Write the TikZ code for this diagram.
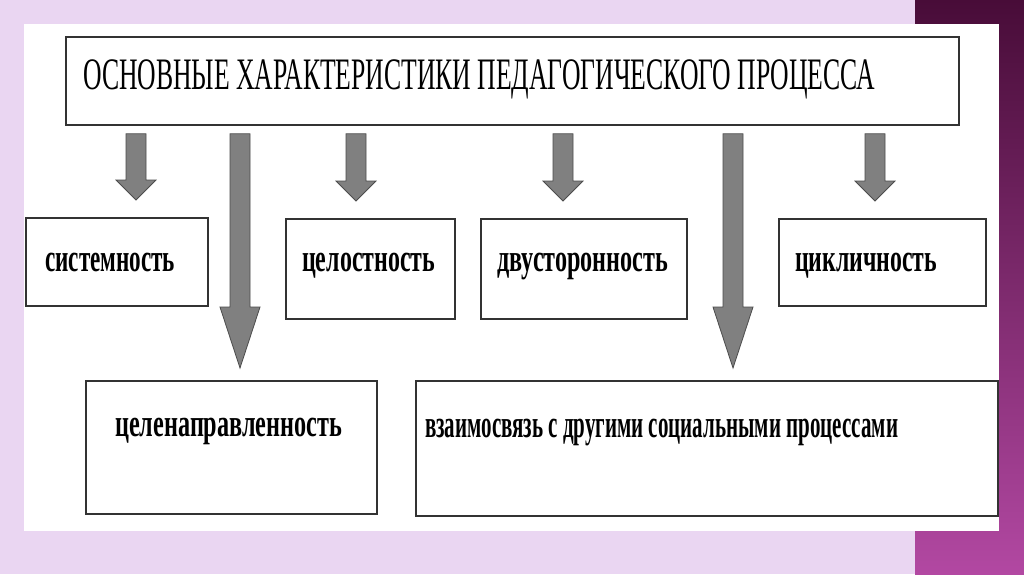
\documentclass[tikz,border=0pt]{standalone}
\usepackage{fontspec}
\setmainfont{Liberation Serif}
\usepackage{xcolor}
\usepackage{graphicx}
\usetikzlibrary{calc}
\definecolor{lilac}{RGB}{234,214,242}
\definecolor{plumtop}{RGB}{72,12,56}
\definecolor{plumbot}{RGB}{178,72,162}
\definecolor{arrgray}{RGB}{128,128,128}
\newcommand{\narrowtext}[2]{\resizebox{#1}{\height}{#2}}
\newcommand{\blkarrow}[3]{%
  \path[blk] let \p1=(#1), \p2=(#2) in
    (\x1-10pt,\y1) -- (\x1+10pt,\y1) -- (\x1+10pt,\y2+#3) -- (\x1+20pt,\y2+#3)
    -- (\x1,\y2) -- (\x1-20pt,\y2+#3) -- (\x1-10pt,\y2+#3) -- cycle;}

\begin{document}
\begin{tikzpicture}[
  x=1pt, y=-1pt,
  box/.style={draw=black!80, line width=1.8pt, fill=white, inner sep=0pt, anchor=north west},
  lbl/.style={anchor=base west, inner sep=0pt, font=\fontsize{39}{40}\selectfont\bfseries},
  head/.style={anchor=base west, inner sep=0pt, font=\fontsize{45}{48}\selectfont},
  blk/.style={fill=arrgray, draw=black!70, line width=0.8pt, line join=miter}
]
\useasboundingbox (0,0) rectangle (1024,574);
\fill[lilac] (0,0) rectangle (1024,574);
\shade[top color=plumtop, bottom color=plumbot] (915,0) rectangle (1024,574);
\fill[white] (24,24) rectangle (999,531);

\node[box, minimum width=893pt, minimum height=88pt] (title) at (65,36) {};
\node[box, minimum width=182pt, minimum height=88pt] (sys) at (25,217) {};
\node[box, minimum width=169pt, minimum height=100pt] (cel) at (285,218) {};
\node[box, minimum width=206pt, minimum height=100pt] (dvu) at (480,218) {};
\node[box, minimum width=207pt, minimum height=87pt] (cyc) at (778,218) {};
\node[box, minimum width=291pt, minimum height=133pt] (goal) at (85,380) {};
\node[box, minimum width=582pt, minimum height=135pt] (rel) at (415,380) {};

\node[head] (title-t) at ($(title.north west)+(18,53)$) {\narrowtext{792pt}{ОСНОВНЫЕ ХАРАКТЕРИСТИКИ ПЕДАГОГИЧЕСКОГО ПРОЦЕССА}};
\node[lbl] (sys-t) at ($(sys.north west)+(20,54)$) {\narrowtext{130pt}{системность}};
\node[lbl] (cel-t) at ($(cel.north west)+(17,53)$) {\narrowtext{133pt}{целостность}};
\node[lbl] (dvu-t) at ($(dvu.north west)+(17,53)$) {\narrowtext{171pt}{двусторонность}};
\node[lbl] (cyc-t) at ($(cyc.north west)+(17,53)$) {\narrowtext{142pt}{цикличность}};
\node[lbl] (goal-t) at ($(goal.north west)+(30,56)$) {\narrowtext{227pt}{целенаправленность}};
\node[lbl] (rel-t) at ($(rel.north west)+(10,57)$) {\narrowtext{473pt}{взаимосвязь с другими социальными процессами}};

\blkarrow{$(title.south west)+(71,8)$}{$(sys.north)+(0,-17)$}{20pt}
\blkarrow{$(title.south west)+(291,8)$}{$(cel.north)+(0,-17)$}{20pt}
\blkarrow{$(title.south west)+(498,8)$}{$(dvu.north)+(0,-17)$}{20pt}
\blkarrow{$(title.south west)+(810,8)$}{$(cyc.north)+(0,-17)$}{20pt}
\blkarrow{$(title.south west)+(175,8)$}{$(goal.north)+(0,-12)$}{61pt}
\blkarrow{$(title.south west)+(668,8)$}{$(rel.north)+(0,-12)$}{61pt}
\end{tikzpicture}
\end{document}
